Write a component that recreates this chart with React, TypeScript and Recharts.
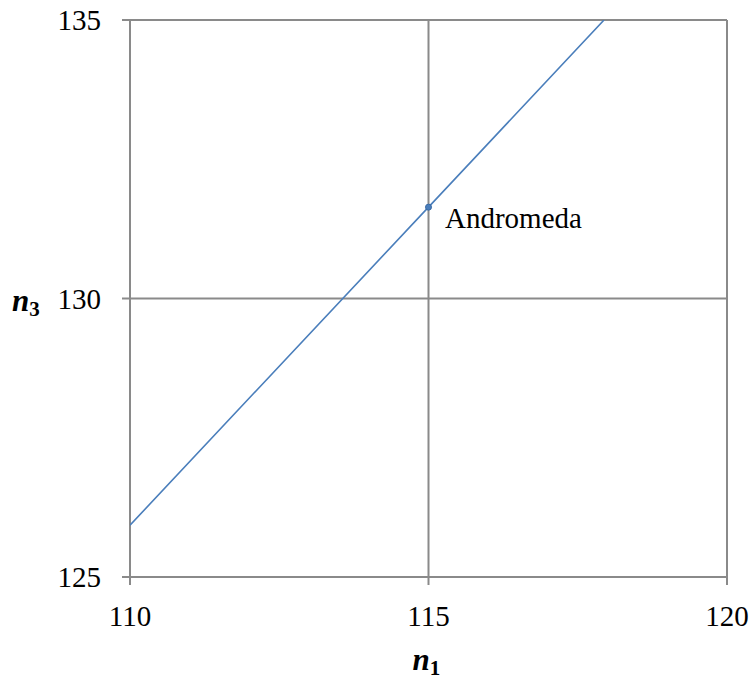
import React from "react";
import {
  ScatterChart,
  Scatter,
  XAxis,
  YAxis,
  CartesianGrid,
  LabelList,
  Label,
} from "recharts";

// n1 -> n3 relation line
const lineN1 = [110, 115, 117.94];
const lineN3 = [125.93, 131.64, 135];

// marked galaxy
const pointName = ["Andromeda"];
const pointN1 = [115];
const pointN3 = [131.64];

const xTicks = [110, 115, 120];
const yTicks = [125, 130, 135];

const lineData = lineN1.map((x, i) => ({ x, y: lineN3[i] }));
const pointData = pointN1.map((x, i) => ({ x, y: pointN3[i], name: pointName[i] }));

const FONT = "Liberation Serif";
const GRID = "#8a8a8a";
const BLUE = "#4a7ebb";

const noDot = () => <g />;

const AxisName = ({ x, y, sub }: { x: number; y: number; sub: string }) => (
  <text x={x} y={y} fill="#000" fontFamily={FONT}>
    <tspan fontSize={31} fontWeight="bold" fontStyle="italic">n</tspan>
    <tspan fontSize={21} fontWeight="bold" dy={5}>{sub}</tspan>
  </text>
);

export default function App() {
  return (
    <div style={{ width: 755, height: 681 }}>
      <style>{`body{margin:0}`}</style>
      <ScatterChart
        width={755}
        height={681}
        margin={{ top: 20, right: 28, bottom: 44, left: 70 }}
      >
        <CartesianGrid stroke={GRID} strokeWidth={2} />
        <XAxis
          type="number"
          dataKey="x"
          domain={[110, 120]}
          ticks={xTicks}
          height={60}
          stroke={GRID}
          strokeWidth={2}
          tickSize={8}
          tickMargin={20}
          tick={{ fill: "#000", fontSize: 29, fontFamily: FONT }}
          allowDataOverflow
        >
          <Label
            content={(props: any) => {
              const vb = props.viewBox;
              return <AxisName x={vb.x + vb.width / 2 - 16} y={vb.y + 93} sub="1" />;
            }}
          />
        </XAxis>
        <YAxis
          type="number"
          dataKey="y"
          domain={[125, 135]}
          ticks={yTicks}
          width={60}
          stroke={GRID}
          strokeWidth={2}
          tickSize={8}
          tickMargin={21}
          tick={{ fill: "#000", fontSize: 29, fontFamily: FONT }}
          allowDataOverflow
        >
          <Label
            content={(props: any) => {
              const vb = props.viewBox;
              return <AxisName x={12} y={vb.y + vb.height / 2 + 12} sub="3" />;
            }}
          />
        </YAxis>
        <Scatter
          data={lineData}
          line={{ stroke: BLUE, strokeWidth: 1.6 }}
          shape={noDot}
          isAnimationActive={false}
        />
        <Scatter
          data={pointData}
          fill={BLUE}
          shape={(p: any) => (
            <circle cx={p.cx} cy={p.cy} r={3} fill={BLUE} stroke="#3a6aa5" strokeWidth={1} />
          )}
          isAnimationActive={false}
        >
          <LabelList
            dataKey="name"
            content={(p: any) => (
              <text x={p.x + 21} y={p.y + 25} fontSize={29} fontFamily={FONT} fill="#000">
                {p.value}
              </text>
            )}
          />
        </Scatter>
      </ScatterChart>
    </div>
  );
}
